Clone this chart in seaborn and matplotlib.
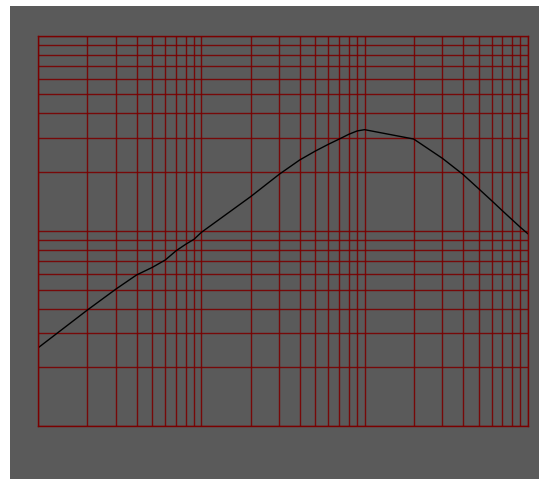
import numpy as np
import pandas as pd
import matplotlib
matplotlib.use("Agg")
import matplotlib.pyplot as plt
from matplotlib.patches import Rectangle
import seaborn as sns

# Frequency points (1-2-...-9 per decade) and gain
freq = [10, 20, 30, 40, 50, 60, 70, 80, 90,
        100, 200, 300, 400, 500, 600, 700, 800, 900,
        1000, 2000, 3000, 4000, 5000, 6000, 7000, 8000, 9000, 10000]
gain = [0.0252, 0.0393, 0.0504, 0.0594, 0.0650, 0.0709, 0.0791, 0.0853, 0.0905,
        0.0983, 0.1496, 0.1950, 0.2307, 0.2566, 0.2777, 0.2955, 0.3124, 0.3250,
        0.3300, 0.2955, 0.2353, 0.1950, 0.1645, 0.1430, 0.1267, 0.1143, 0.1044, 0.0968]

df = pd.DataFrame({"freq": freq, "gain": gain})

bg = "#5a5a5a"
grid_col = "#7a0000"

fig = plt.figure(figsize=(5.43, 4.79), dpi=100)
fig.patch.set_facecolor("white")
# grey panel behind the plot
fig.patches.append(Rectangle((10 / 543, 0), 529 / 543, 473 / 479,
                             transform=fig.transFigure, facecolor=bg,
                             edgecolor="none", zorder=-10))

ax = fig.add_axes([38.3 / 543, 53 / 479, 489.4 / 543, 390.3 / 479])
ax.set_facecolor(bg)

sns.lineplot(data=df, x="freq", y="gain", color="black", linewidth=1.0, ax=ax)

ax.set_xscale("log")
ax.set_yscale("log")
ax.set_xlim(10, 10000)
ax.set_ylim(0.01, 1)

ax.grid(True, which="both", color=grid_col, linewidth=1.0, alpha=0.9)
ax.set_axisbelow(True)
for s in ax.spines.values():
    s.set_color(grid_col)
    s.set_linewidth(1.0)

ax.tick_params(which="both", length=0, labelbottom=False, labelleft=False)
ax.set_xlabel("")
ax.set_ylabel("")

fig.savefig("out.png", dpi=100, facecolor=fig.get_facecolor())
